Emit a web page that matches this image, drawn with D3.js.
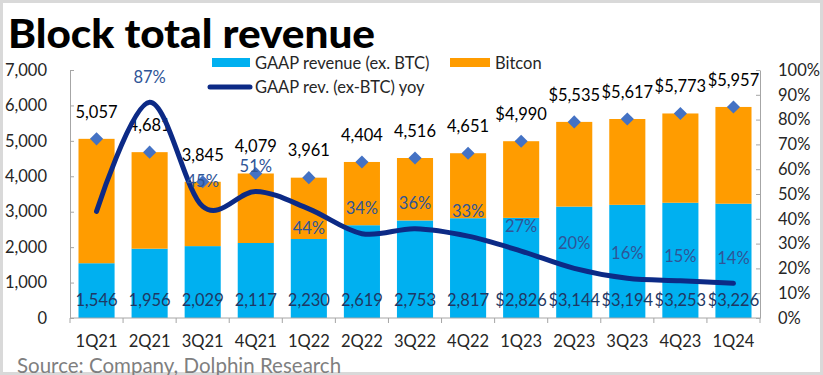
<!DOCTYPE html>
<html>
<head>
<meta charset="utf-8">
<script src="https://cdn.jsdelivr.net/npm/d3@7"></script>
<style>
  body { margin: 0; background: #fff; }
  text { font-family: Lato, "Open Sans", sans-serif; }
</style>
</head>
<body>
<div id="chart"></div>
<script>
// quarters and values
var quarters = ["1Q21","2Q21","3Q21","4Q21","1Q22","2Q22","3Q22","4Q22","1Q23","2Q23","3Q23","4Q23","1Q24"];
var gaapRev  = [1546, 1956, 2029, 2117, 2230, 2619, 2753, 2817, 2826, 3144, 3194, 3253, 3226];
var totalRev = [5057, 4681, 3845, 4079, 3961, 4404, 4516, 4651, 4990, 5535, 5617, 5773, 5957];
var gaapYoy  = [0.43, 0.87, 0.45, 0.51, 0.44, 0.34, 0.36, 0.33, 0.27, 0.20, 0.16, 0.15, 0.14];
var leftTicks  = [0, 1000, 2000, 3000, 4000, 5000, 6000, 7000];
var rightTicks = [0, 0.1, 0.2, 0.3, 0.4, 0.5, 0.6, 0.7, 0.8, 0.9, 1.0];
var dollarFrom = "1Q23";          // value labels get a "$" from this quarter on
var yoyHidden = ["1Q21"];          // no yoy label shown
var yoyBelow = ["1Q22"];           // yoy label under the line

var W = 823, H = 375;
var pLeft = 70, pRight = 760, pTop = 70, pBottom = 318;

var data = quarters.map(function(q, i) {
  return {q: q, gaap: gaapRev[i], total: totalRev[i], yoy: gaapYoy[i]};
});

var x = d3.scaleBand().domain(quarters).range([pLeft, pRight]).paddingInner(0.32).paddingOuter(0.16);
var yL = d3.scaleLinear().domain([0, 7000]).range([pBottom, pTop]);
var yR = d3.scaleLinear().domain([0, 1]).range([pBottom, pTop]);

var svg = d3.select("#chart").append("svg")
    .attr("width", W)
    .attr("height", H);

svg.append("rect")
    .attr("x", 1.5).attr("y", 1.5)
    .attr("width", W - 3).attr("height", H - 3)
    .attr("fill", "#fff")
    .attr("stroke", "#d9d9d9")
    .attr("stroke-width", 3);

// title
svg.append("text")
    .attr("x", 8).attr("y", 48)
    .attr("font-size", 39)
    .attr("font-weight", 900)
    .attr("textLength", 367)
    .attr("lengthAdjust", "spacingAndGlyphs")
    .attr("fill", "#000")
    .text("Block total revenue");

// bars
var cols = svg.append("g").selectAll("g").data(data).enter().append("g");

cols.append("rect")
    .attr("x", function(d) { return x(d.q); })
    .attr("y", function(d) { return yL(d.gaap); })
    .attr("width", x.bandwidth())
    .attr("height", function(d) { return yL(0) - yL(d.gaap); })
    .attr("fill", "#00B0F0");

cols.append("rect")
    .attr("x", function(d) { return x(d.q); })
    .attr("y", function(d) { return yL(d.total); })
    .attr("width", x.bandwidth())
    .attr("height", function(d) { return yL(d.gaap) - yL(d.total); })
    .attr("fill", "#FF9C00");

// axes
var axisCol = "#a6a6a6";

var gl = svg.append("g")
    .attr("transform", "translate(" + pLeft + ",0)")
    .call(d3.axisLeft(yL).tickValues(leftTicks).tickFormat(d3.format(",")).tickSizeInner(-4).tickSizeOuter(0).tickPadding(23));

var gr = svg.append("g")
    .attr("transform", "translate(" + pRight + ",0)")
    .call(d3.axisRight(yR).tickValues(rightTicks).tickFormat(d3.format(".0%")).tickSizeInner(-4).tickSizeOuter(0).tickPadding(18));

var gx = svg.append("g")
    .attr("transform", "translate(0," + pBottom + ")")
    .call(d3.axisBottom(x).tickSize(0).tickPadding(17));

[gl, gr, gx].forEach(function(g) {
  g.select(".domain").attr("stroke", axisCol);
  g.selectAll(".tick line").attr("stroke", axisCol);
  g.selectAll("text").attr("font-size", 16.5).attr("fill", "#262626")
    .style("font-family", "Lato, 'Open Sans', sans-serif");
});
gx.select(".domain").remove();

// x baseline with ticks between quarters
svg.append("line")
    .attr("x1", pLeft).attr("x2", pRight)
    .attr("y1", pBottom).attr("y2", pBottom)
    .attr("stroke", axisCol);

var step = x.step();
svg.append("g").selectAll("line")
    .data(quarters.concat(["end"]))
    .enter().append("line")
    .attr("x1", function(d, i) { return pLeft + i * step; })
    .attr("x2", function(d, i) { return pLeft + i * step; })
    .attr("y1", pBottom).attr("y2", pBottom + 5)
    .attr("stroke", axisCol);

// diamonds on totals
var dollarIdx = quarters.indexOf(dollarFrom);
function money(v, i) { return (i >= dollarIdx ? "$" : "") + d3.format(",")(v); }

svg.append("g").selectAll("path")
    .data(data).enter().append("path")
    .attr("transform", function(d) { return "translate(" + (x(d.q) + x.bandwidth() / 2) + "," + yL(d.total) + ")"; })
    .attr("d", d3.symbol().type(d3.symbolDiamond2).size(110))
    .attr("fill", "#4472C4");

// total labels
svg.append("g").selectAll("text")
    .data(data).enter().append("text")
    .attr("x", function(d) { return x(d.q) + x.bandwidth() / 2; })
    .attr("y", function(d) { return yL(d.total) - 27; })
    .attr("dy", "0.35em")
    .attr("text-anchor", "middle")
    .attr("font-size", 16.5)
    .attr("fill", "#000")
    .text(function(d, i) { return money(d.total, i); });

// gaap labels inside bars
svg.append("g").selectAll("text")
    .data(data).enter().append("text")
    .attr("x", function(d) { return x(d.q) + x.bandwidth() / 2; })
    .attr("y", 300)
    .attr("dy", "0.35em")
    .attr("text-anchor", "middle")
    .attr("font-size", 16.5)
    .attr("fill", "#1F3864")
    .text(function(d, i) { return money(d.gaap, i); });

// yoy line
var line = d3.line()
    .x(function(d) { return x(d.q) + x.bandwidth() / 2; })
    .y(function(d) { return yR(d.yoy); })
    .curve(d3.curveCatmullRom.alpha(0));

svg.append("path")
    .datum(data)
    .attr("d", line)
    .attr("fill", "none")
    .attr("stroke", "#0C2A86")
    .attr("stroke-width", 5)
    .attr("stroke-linecap", "round");

svg.append("g").selectAll("text")
    .data(data.filter(function(d) { return yoyHidden.indexOf(d.q) < 0; }))
    .enter().append("text")
    .attr("x", function(d) { return x(d.q) + x.bandwidth() / 2; })
    .attr("y", function(d) { return yR(d.yoy) + (yoyBelow.indexOf(d.q) >= 0 ? 19 : -25); })
    .attr("dy", "0.35em")
    .attr("text-anchor", "middle")
    .attr("font-size", 16.5)
    .attr("fill", "#2F5597")
    .text(function(d) { return d3.format(".0%")(d.yoy); });

// legend
var lg = svg.append("g");
lg.append("rect").attr("x", 212).attr("y", 58).attr("width", 38).attr("height", 9).attr("fill", "#00B0F0");
lg.append("text").attr("x", 255).attr("y", 63).attr("dy", "0.35em").attr("font-size", 16.5).attr("fill", "#262626").text("GAAP revenue (ex. BTC)");
lg.append("rect").attr("x", 450).attr("y", 58).attr("width", 40).attr("height", 9).attr("fill", "#FF9C00");
lg.append("text").attr("x", 495).attr("y", 63).attr("dy", "0.35em").attr("font-size", 16.5).attr("fill", "#262626").text("Bitcon");
lg.append("line").attr("x1", 210).attr("x2", 250).attr("y1", 87).attr("y2", 87)
    .attr("stroke", "#0C2A86").attr("stroke-width", 5).attr("stroke-linecap", "round");
lg.append("text").attr("x", 255).attr("y", 87).attr("dy", "0.35em").attr("font-size", 16.5).attr("fill", "#262626").text("GAAP rev. (ex-BTC) yoy");

// source
svg.append("text")
    .attr("x", 17).attr("y", 366)
    .attr("dy", "0.35em")
    .attr("font-size", 20.5)
    .attr("fill", "#7f7f7f")
    .text("Source: Company, Dolphin Research");
</script>
</body>
</html>
